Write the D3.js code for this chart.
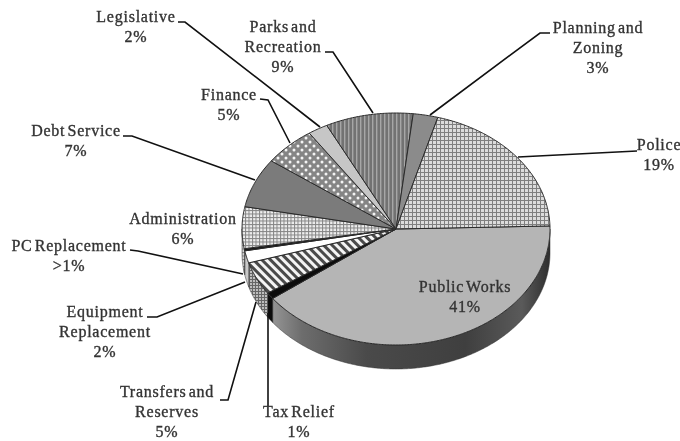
<!DOCTYPE html>
<html>
<head>
<meta charset="utf-8">
<script src="https://cdn.jsdelivr.net/npm/d3@7"></script>
<style>
  html, body { margin: 0; padding: 0; background: #fff; }
  svg { display: block; filter: blur(0.4px); }
  .slice_label {
    font-family: "Liberation Serif", serif;
    font-size: 16px;
    letter-spacing: 0.75px;
    word-spacing: -2.5px;
    fill: #333;
    stroke: #333;
    stroke-width: 0.35px;
    text-anchor: middle;
  }
  .leader { fill: none; stroke: #111; stroke-width: 1.6px; }
  .slice_top { stroke: #2a2a2a; stroke-width: 1px; stroke-linejoin: round; }
</style>
</head>
<body>
<div id="chart"></div>
<script>
"use strict";

// slices, clockwise from the right edge of the pie
var categories = ["Public Works", "Tax Relief", "Transfers and Reserves", "Equipment Replacement",
  "PC Replacement", "Administration", "Debt Service", "Finance", "Legislative",
  "Parks and Recreation", "Planning and Zoning", "Police"];
var shares = [40.2, 0.9, 4.6, 1.7, 0.3, 5.8, 6.9, 5.5, 2.1, 9.2, 2.6, 20.2];
var percent_labels = ["41%", "1%", "5%", "2%", ">1%", "6%", "7%", "5%", "2%", "9%", "3%", "19%"];
var label_lines = [["Public Works"], ["Tax Relief"], ["Transfers and", "Reserves"], ["Equipment", "Replacement"],
  ["PC Replacement"], ["Administration"], ["Debt Service"], ["Finance"], ["Legislative"],
  ["Parks and", "Recreation"], ["Planning and", "Zoning"], ["Police"]];
var top_fills = ["#b5b5b5", "#0c0c0c", "url(#stripes)", "#ffffff", "#1a1a1a", "url(#grid_fine)",
  "#7b7b7b", "url(#dots)", "#c6c6c6", "url(#bars)", "#8b8b8b", "url(#grid)"];
var side_fills = ["url(#side_shade)", "#0c0c0c", "url(#grid_side)", "#c9c9c9", "#555555", "url(#grid_fine)",
  "#5a5a5a", "#666666", "#999999", "#555555", "#666666", "#3a3a3a"];

// label centre and first baseline, then the leader's points from label to pie
var label_places = [[465, 292], [299, 417], [167, 397], [105, 317], [69, 251], [183, 224],
  [76, 136], [229, 100], [136, 22], [283, 32], [598, 33], [659, 150]];
var leader_points = [
  [],
  [[268, 406], [268, 313]],
  [[220, 400], [228, 400], [256, 302]],
  [[147, 317], [157, 317], [245, 282]],
  [[130, 250], [138, 251], [243, 274]],
  [],
  [[123, 136], [132, 136], [255, 180]],
  [[260, 99], [268, 100], [290, 143]],
  [[178, 22], [185, 22], [320, 127]],
  [[325, 52], [333, 52], [373, 113]],
  [[550, 33], [540, 33], [430, 115]],
  [[637, 151], [518, 157]]
];

var width = 680,
  height = 441,
  center_x = 396,
  center_y = 229,
  radius_x = 154,
  radius_y = 116,
  depth = 24,
  line_height = 20,
  first_angle = 88.5 * Math.PI / 180;

var svg = d3.select("#chart").append("svg")
  .attr("width", width)
  .attr("height", height);

var defs = svg.append("defs");

// square pattern with a flat background, used by every hatch below
function addPattern(id, size, background, transform) {
  var pattern = defs.append("pattern")
    .attr("id", id)
    .attr("patternUnits", "userSpaceOnUse")
    .attr("width", size)
    .attr("height", size);
  if (transform) {
    pattern.attr("patternTransform", transform);
  }
  pattern.append("rect")
    .attr("width", size)
    .attr("height", size)
    .attr("fill", background);
  return pattern;
}

function addGrid(id, size, background, ink) {
  var pattern = addPattern(id, size, background);
  pattern.append("rect").attr("width", 1).attr("height", size).attr("fill", ink);
  pattern.append("rect").attr("width", size).attr("height", 1).attr("fill", ink);
}

addGrid("grid", 4, "#dcdcdc", "#7f7f7f");
addGrid("grid_fine", 3.5, "#eeeeee", "#858585");
addGrid("grid_side", 3, "#bdbdbd", "#666666");

var stripes = addPattern("stripes", 6, "#f4f4f4", "rotate(-45)");
stripes.append("rect").attr("width", 3).attr("height", 6).attr("fill", "#4a4a4a");

var bars = addPattern("bars", 4, "#727272");
bars.append("rect").attr("width", 1.4).attr("height", 4).attr("fill", "#a6a6a6");

var dots = addPattern("dots", 8, "#858585");
[[2, 2], [6, 6]].forEach(function (p) {
  dots.append("circle")
    .attr("cx", p[0])
    .attr("cy", p[1])
    .attr("r", 1.5)
    .attr("fill", "#f4f4f4");
});

var shade = defs.append("linearGradient")
  .attr("id", "side_shade")
  .attr("gradientUnits", "userSpaceOnUse")
  .attr("x1", 268).attr("x2", 550)
  .attr("y1", 0).attr("y2", 0);
[[0, "#9b9b9b"], [0.12, "#6d6d6d"], [0.35, "#4a4a4a"], [0.7, "#3f3f3f"], [0.9, "#5a5a5a"], [1, "#2e2e2e"]]
  .forEach(function (s) {
    shade.append("stop").attr("offset", s[0]).attr("stop-color", s[1]);
  });

var pie = d3.pie()
  .sort(null)
  .startAngle(first_angle)
  .endAngle(first_angle + 2 * Math.PI);

var slices = pie(shares);

// x and y on the ellipse; angle runs clockwise from 12 o'clock like d3.pie
function rimX(angle) {
  return center_x + radius_x * Math.sin(angle);
}

function rimY(angle) {
  return center_y - radius_y * Math.cos(angle);
}

function rimAngles(start, end) {
  var angles = d3.range(start, end, 0.01);
  angles.push(end);
  return angles;
}

var outline = d3.line();

function topPath(d) {
  var points = rimAngles(d.startAngle, d.endAngle).map(function (a) {
    return [rimX(a), rimY(a)];
  });
  return outline([[center_x, center_y]].concat(points)) + "Z";
}

// only the front half of the rim, from 3 o'clock round to 9 o'clock, has a wall
var wall = d3.area()
  .x(rimX)
  .y0(rimY)
  .y1(function (a) {
    return rimY(a) + depth;
  });

function wallPath(d) {
  var start = Math.max(d.startAngle, Math.PI / 2),
    end = Math.min(d.endAngle, 3 * Math.PI / 2);
  return end > start ? wall(rimAngles(start, end)) : null;
}

svg.selectAll(".slice_side")
  .data(slices)
  .enter()
  .append("path")
  .attr("class", "slice_side")
  .attr("d", wallPath)
  .attr("fill", function (d, i) {
    return side_fills[i];
  })
  .attr("stroke", "#333")
  .attr("stroke-width", 0.5);

svg.selectAll(".slice_top")
  .data(slices)
  .enter()
  .append("path")
  .attr("class", "slice_top")
  .attr("d", topPath)
  .attr("fill", function (d, i) {
    return top_fills[i];
  });

svg.selectAll(".leader")
  .data(leader_points.filter(function (p) {
    return p.length > 0;
  }))
  .enter()
  .append("path")
  .attr("class", "leader")
  .attr("d", outline);

// category lines then the percent line, each centred on the label's place
var labels = svg.selectAll(".slice_label")
  .data(categories)
  .enter()
  .append("text")
  .attr("class", "slice_label")
  .attr("aria-label", function (d) {
    return d;
  });

labels.each(function (d, i) {
  var lines = label_lines[i].concat([percent_labels[i]]);
  d3.select(this).selectAll("tspan")
    .data(lines)
    .enter()
    .append("tspan")
    .attr("x", label_places[i][0])
    .attr("y", function (t, j) {
      return label_places[i][1] + j * line_height;
    })
    .text(function (t) {
      return t;
    });
});
</script>
</body>
</html>
